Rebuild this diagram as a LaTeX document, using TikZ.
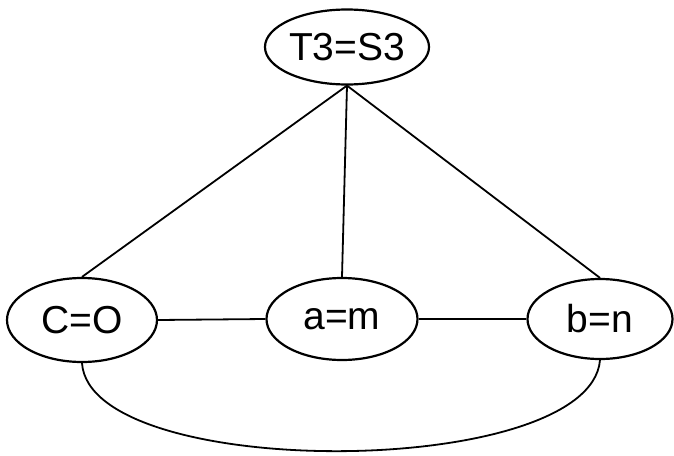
\documentclass[tikz,border=0pt]{standalone}
\usepackage{fontspec}
\setmainfont{Liberation Sans}
\usetikzlibrary{shapes.geometric}
\newcommand{\ovalwd}{2.2pt}
\newcommand{\edgewd}{1.8pt}
\newcommand{\labelsize}{\fontsize{39}{41}\selectfont}

\begin{document}
\begin{tikzpicture}[x=1pt, y=-1pt,
    oval/.style={ellipse, draw, line width=\ovalwd, inner sep=0pt, font=\labelsize},
    link/.style={line width=\edgewd}]
    \useasboundingbox (0, 0) rectangle (674, 455);

    % nodes
    \node [oval, minimum width=150, minimum height=75] (T3) at (347, 47) {T3=S3};
    \node [oval, minimum width=150, minimum height=84] (CO) at (82, 320) {C=O};
    \node [oval, minimum width=151, minimum height=82] (am) at (342, 319) {a=m};
    \node [oval, minimum width=145, minimum height=80] (bn) at (600, 319) {b=n};

    % edges from the top
    \draw [link] (T3.south) -- (CO.north);
    \draw [link] (T3.south) -- (am.north);
    \draw [link] (T3.south) -- (bn.north);

    % edges along the row
    \draw [link] (CO.east) -- (am.west);
    \draw [link] (am.east) -- (bn.west);
    \draw [link] (CO.south) .. controls (90, 482) and (590, 480) .. (bn.south);
\end{tikzpicture}
\end{document}
